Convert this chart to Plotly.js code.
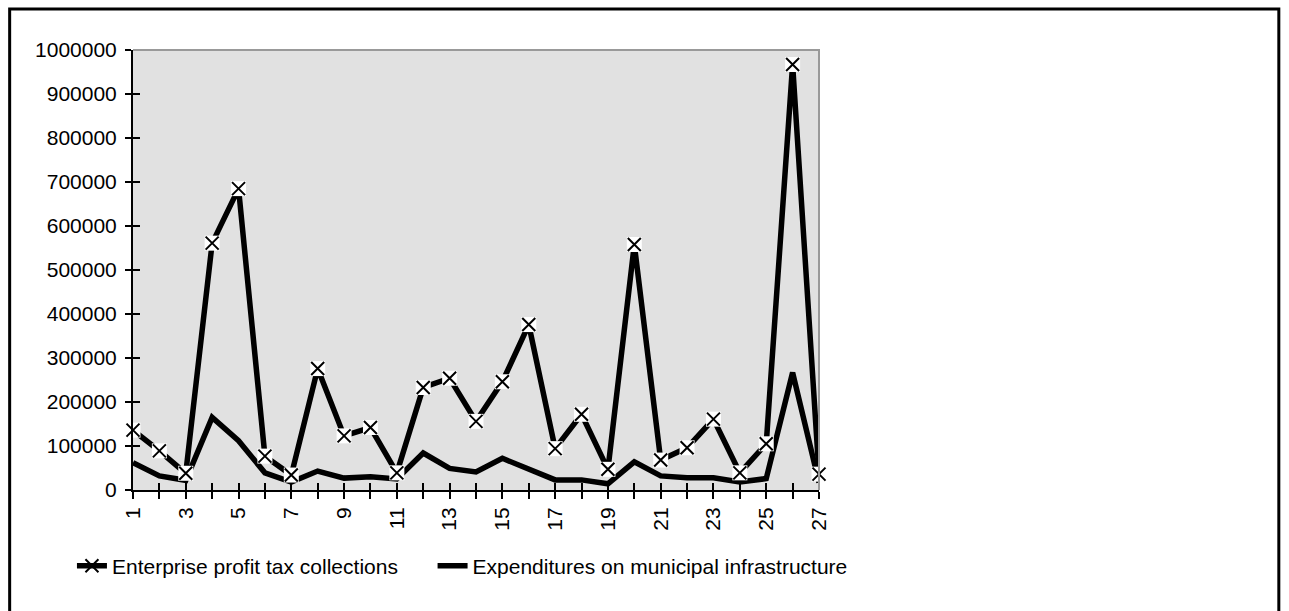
<!DOCTYPE html>
<html>
<head>
<meta charset="utf-8">
<script src="https://cdn.plot.ly/plotly-3.0.1.min.js"></script>
<style>html,body{margin:0;padding:0;background:#fff;}#chart{width:1289px;height:611px;}</style>
</head>
<body>
<div id="chart"></div>
<script>
const categories = [1,2,3,4,5,6,7,8,9,10,11,12,13,14,15,16,17,18,19,20,21,22,23,24,25,26,27];
const taxCollections = [136000, 89000, 38000, 561000, 685000, 77000, 34000, 276000, 123000, 142000, 39000, 233000, 254000, 156000, 246000, 376000, 94000, 172000, 47000, 558000, 68000, 96000, 161000, 39000, 105000, 967000, 36000];
const infraExpenditures = [62000, 32000, 22000, 165000, 112000, 39000, 18000, 43000, 27000, 30000, 25000, 84000, 49000, 41000, 72000, 46000, 23000, 23000, 14000, 64000, 32000, 28000, 28000, 18000, 26000, 267000, 17000];
const seriesNames = ["Enterprise profit tax collections", "Expenditures on municipal infrastructure"];
const xTickText = categories.map((c, i) => (i % 2 === 0 ? String(c) : ""));
const yTickVals = [0,100000,200000,300000,400000,500000,600000,700000,800000,900000,1000000];

const FONT = "Liberation Sans, Arial, sans-serif";

const traces = [
  {
    x: categories, y: infraExpenditures, name: seriesNames[1], type: "scatter", mode: "lines",
    line: {color: "#000", width: 5.5}, legend: "legend2", hoverinfo: "skip"
  },
  {
    x: categories, y: taxCollections, name: seriesNames[0], type: "scatter", mode: "lines+markers",
    line: {color: "#000", width: 5.5}, cliponaxis: false,
    marker: {symbol: "x-thin", size: 13, color: "#000", line: {color: "#000", width: 2}},
    legend: "legend", hoverinfo: "skip"
  },
  {
    x: categories, y: taxCollections, type: "scatter", mode: "markers", showlegend: false,
    xaxis: "x2", yaxis: "y2", cliponaxis: false,
    marker: {symbol: "square", size: 15, color: "#fff", line: {width: 0}}, hoverinfo: "skip"
  },
  {
    x: categories, y: taxCollections, type: "scatter", mode: "markers", showlegend: false,
    xaxis: "x2", yaxis: "y2", cliponaxis: false,
    marker: {symbol: "x-thin", size: 13, color: "#000", line: {color: "#000", width: 2}}, hoverinfo: "skip"
  }
];

const legendBase = {
  orientation: "h", xanchor: "left", y: -0.173, yanchor: "middle",
  font: {family: FONT, size: 21, color: "#000"}, bgcolor: "rgba(0,0,0,0)"
};

const layout = {
  width: 1289, height: 611,
  margin: {l: 133, r: 470, t: 50, b: 121, pad: 0},
  paper_bgcolor: "#ffffff",
  plot_bgcolor: "#e1e1e1",
  font: {family: FONT, size: 21, color: "#000"},
  showlegend: true,
  xaxis: {
    range: [1, 27], tickmode: "array", tickvals: categories, ticktext: xTickText,
    tickangle: -90, ticks: "outside", ticklen: 7, tickwidth: 2, tickcolor: "#000",
    showline: true, linecolor: "#000", linewidth: 2, showgrid: false, zeroline: false,
    tickfont: {family: FONT, size: 21, color: "#000"}, fixedrange: true
  },
  yaxis: {
    range: [0, 1000000], tickmode: "array", tickvals: yTickVals,
    ticktext: yTickVals.map(v => String(v)),
    ticks: "outside", ticklen: 6, tickwidth: 2, tickcolor: "#000",
    showline: true, linecolor: "#000", linewidth: 2, showgrid: false, zeroline: false,
    ticklabelstandoff: 4,
    tickfont: {family: FONT, size: 21, color: "#000"}, fixedrange: true
  },
  xaxis2: {
    overlaying: "x", side: "bottom", range: [1, 27], tickmode: "array", tickvals: categories,
    ticks: "inside", ticklen: 7, tickwidth: 2, tickcolor: "#000",
    showticklabels: false, showline: false, showgrid: false, zeroline: false, fixedrange: true
  },
  yaxis2: {
    overlaying: "y", side: "left", range: [0, 1000000], tickmode: "array", tickvals: yTickVals,
    ticks: "inside", ticklen: 7, tickwidth: 2, tickcolor: "#000",
    showticklabels: false, showline: false, showgrid: false, zeroline: false, fixedrange: true
  },
  legend: Object.assign({}, legendBase, {x: -0.089}),
  legend2: Object.assign({}, legendBase, {x: 0.4367}),
  shapes: [
    {type: "path", xref: "paper", yref: "paper", path: "M 0 1 L 1 1 L 1 0",
     line: {color: "#999999", width: 2}, layer: "above"},
    {type: "rect", xref: "paper", yref: "paper", x0: -0.1798, x1: 1.6703, y0: -0.34, y1: 1.0932,
     line: {color: "#000", width: 3}, fillcolor: "rgba(0,0,0,0)", layer: "above"}
  ]
};

Plotly.newPlot("chart", traces, layout, {staticPlot: true, displayModeBar: false});
</script>
</body>
</html>
